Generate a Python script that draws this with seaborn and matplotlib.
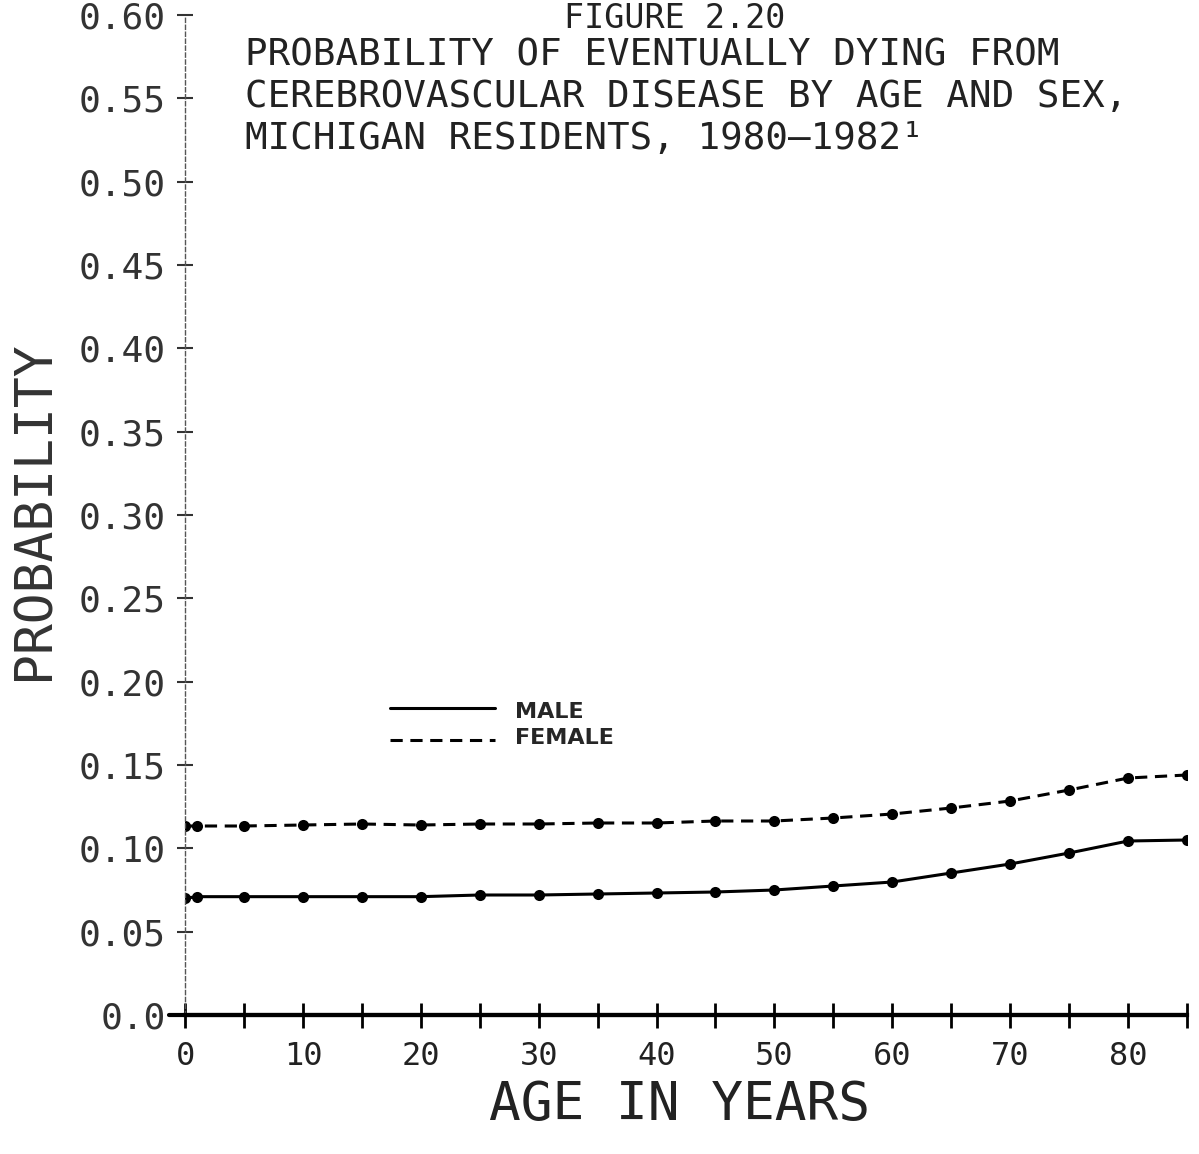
import matplotlib
matplotlib.use("Agg")
import matplotlib.pyplot as plt
import seaborn as sns
import pandas as pd

ages = [0, 1, 5, 10, 15, 20, 25, 30, 35, 40, 45, 50, 55, 60, 65, 70, 75, 80, 85]
male = [0.070, 0.071, 0.071, 0.071, 0.071, 0.071, 0.072, 0.072, 0.0726, 0.0732, 0.0738,
        0.075, 0.0774, 0.0798, 0.0852, 0.0906, 0.0972, 0.1044, 0.105]
female = [0.1134, 0.1134, 0.1134, 0.114, 0.1146, 0.114, 0.1146, 0.1146, 0.1152, 0.1152,
          0.1164, 0.1164, 0.1182, 0.1206, 0.1242, 0.1284, 0.135, 0.1422, 0.144]
y_ticks = [0.0, 0.05, 0.10, 0.15, 0.20, 0.25, 0.30, 0.35, 0.40, 0.45, 0.50, 0.55, 0.60]
y_tick_labels = ["0.0", "0.05", "0.10", "0.15", "0.20", "0.25", "0.30", "0.35", "0.40",
                 "0.45", "0.50", "0.55", "0.60"]
x_major = [0, 10, 20, 30, 40, 50, 60, 70, 80]
x_minor = [5, 15, 25, 35, 45, 55, 65, 75, 85]
title_lines = ["PROBABILITY OF EVENTUALLY DYING FROM",
               "CEREBROVASCULAR DISEASE BY AGE AND SEX,",
               "MICHIGAN RESIDENTS, 1980\u20131982\u00b9"]

sns.set_theme(style="white")
plt.rcParams["font.family"] = ["DejaVu Sans Mono", "DejaVu Sans"]

df = pd.DataFrame({"age": ages * 2, "prob": male + female,
                   "sex": ["MALE"] * len(ages) + ["FEMALE"] * len(ages)})

fig = plt.figure(figsize=(11.99, 11.54), dpi=100)
ax = fig.add_axes([185 / 1199, 1 - 1015 / 1154, 1002 / 1199, 1000 / 1154])

sns.lineplot(data=df[df.sex == "MALE"], x="age", y="prob", ax=ax, color="black",
             lw=2.2, marker="o", markersize=8, markeredgewidth=0, legend=False)
sns.lineplot(data=df[df.sex == "FEMALE"], x="age", y="prob", ax=ax, color="black",
             lw=2.2, marker="o", markersize=8, markeredgewidth=0, legend=False,
             dashes=False, linestyle=(0, (4, 2.5)))

ax.set_xlim(0, 85)
ax.set_ylim(0, 0.60)
ax.set_xticks(x_major)
ax.set_xticklabels([str(v) for v in x_major], fontsize=23, color="#222222")
ax.set_xticks(x_minor, minor=True)
ax.set_yticks(y_ticks)
ax.set_yticklabels(y_tick_labels, fontsize=26, color="#333333")
ax.tick_params(axis="x", which="both", direction="inout", length=18, width=2,
               color="black", pad=10, bottom=True)
ax.tick_params(axis="y", which="both", direction="inout", length=12, width=1.5,
               color="#333333", pad=8, left=True)
ax.set_xlabel("AGE IN YEARS", fontsize=38, color="#222222")
ax.set_ylabel("PROBABILITY", fontsize=37, color="#333333")
ax.xaxis.set_label_coords(0.494, -0.09)
ax.xaxis.label.set_va("center")
ax.yaxis.set_label_coords(-0.150, 0.505)
ax.yaxis.label.set_va("center")

for s in ["top", "right"]:
    ax.spines[s].set_visible(False)
ax.spines["left"].set_linestyle((0, (3, 2)))
ax.spines["left"].set_linewidth(1.0)
ax.spines["left"].set_color("#555555")
ax.spines["bottom"].set_linewidth(3)
ax.spines["bottom"].set_color("black")
ax.axhline(0, xmin=-0.016, xmax=1.0, color="black", lw=3, clip_on=False)

# legend
ax.plot([17.4, 26.3], [0.184, 0.184], color="black", lw=2.2)
ax.plot([17.4, 26.3], [0.165, 0.165], color="black", lw=2.2, linestyle=(0, (4, 2.5)))
ax.text(28.0, 0.182, "MALE", fontsize=16, fontweight="bold", va="center", ha="left",
        family="DejaVu Sans")
ax.text(28.0, 0.166, "FEMALE", fontsize=16, fontweight="bold", va="center", ha="left",
        family="DejaVu Sans")

fig.text(675 / 1199, 1 - 18 / 1154, "FIGURE 2.20", fontsize=24, ha="center", va="center",
         color="#222222")
for i, line in enumerate(title_lines):
    fig.text(245 / 1199, 1 - (55 + 42 * i) / 1154, line, fontsize=27, ha="left",
             va="center", color="#222222")

fig.savefig("out.png", dpi=100)
